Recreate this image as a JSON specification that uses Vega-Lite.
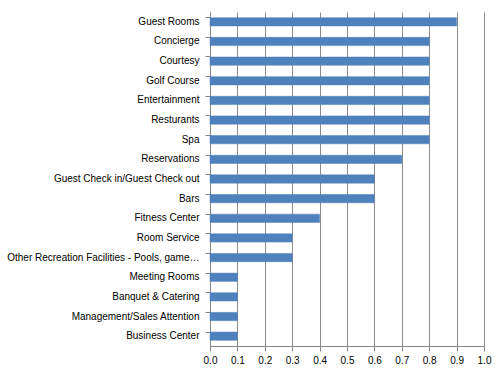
{
  "$schema": "https://vega.github.io/schema/vega-lite/v6.json",
  "width": 274,
  "height": 334,
  "autosize": "none",
  "padding": {"left": 210, "top": 12, "right": 16, "bottom": 29},
  "background": "white",
  "data": {"values": [
    {"category": "Guest Rooms", "value": 0.9},
    {"category": "Concierge", "value": 0.8},
    {"category": "Courtesy", "value": 0.8},
    {"category": "Golf Course", "value": 0.8},
    {"category": "Entertainment", "value": 0.8},
    {"category": "Resturants", "value": 0.8},
    {"category": "Spa", "value": 0.8},
    {"category": "Reservations", "value": 0.7},
    {"category": "Guest Check in/Guest Check out", "value": 0.6},
    {"category": "Bars", "value": 0.6},
    {"category": "Fitness Center", "value": 0.4},
    {"category": "Room Service", "value": 0.3},
    {"category": "Other Recreation Facilities - Pools, game…", "value": 0.3},
    {"category": "Meeting Rooms", "value": 0.1},
    {"category": "Banquet & Catering", "value": 0.1},
    {"category": "Management/Sales Attention", "value": 0.1},
    {"category": "Business Center", "value": 0.1}
  ]},
  "config": {
    "view": {"stroke": null},
    "font": "Liberation Sans"
  },
  "mark": {"type": "bar", "color": "#4F81BD", "stroke": "#4A7EBB", "strokeWidth": 0.5},
  "encoding": {
    "y": {
      "field": "category", "type": "nominal", "sort": null,
      "scale": {"paddingInner": 0.58, "paddingOuter": 0.29},
      "axis": {
        "title": null, "bandPosition": 0, "tickSize": 5, "tickColor": "#868686",
        "domainColor": "#868686", "labelPadding": 6, "labelFontSize": 10,
        "labelColor": "#000000", "labelLimit": 220, "grid": false
      }
    },
    "x": {
      "field": "value", "type": "quantitative",
      "scale": {"domain": [0, 1], "nice": false},
      "axis": {
        "title": null, "values": [0, 0.1, 0.2, 0.3, 0.4, 0.5, 0.6, 0.7, 0.8, 0.9, 1],
        "grid": true, "gridColor": "#8c8c8c", "gridWidth": 1,
        "tickSize": 5, "tickColor": "#868686", "domainColor": "#868686",
        "labelFontSize": 10, "labelColor": "#000000", "labelPadding": 4,
        "labelFlush": false
      }
    }
  }
}
